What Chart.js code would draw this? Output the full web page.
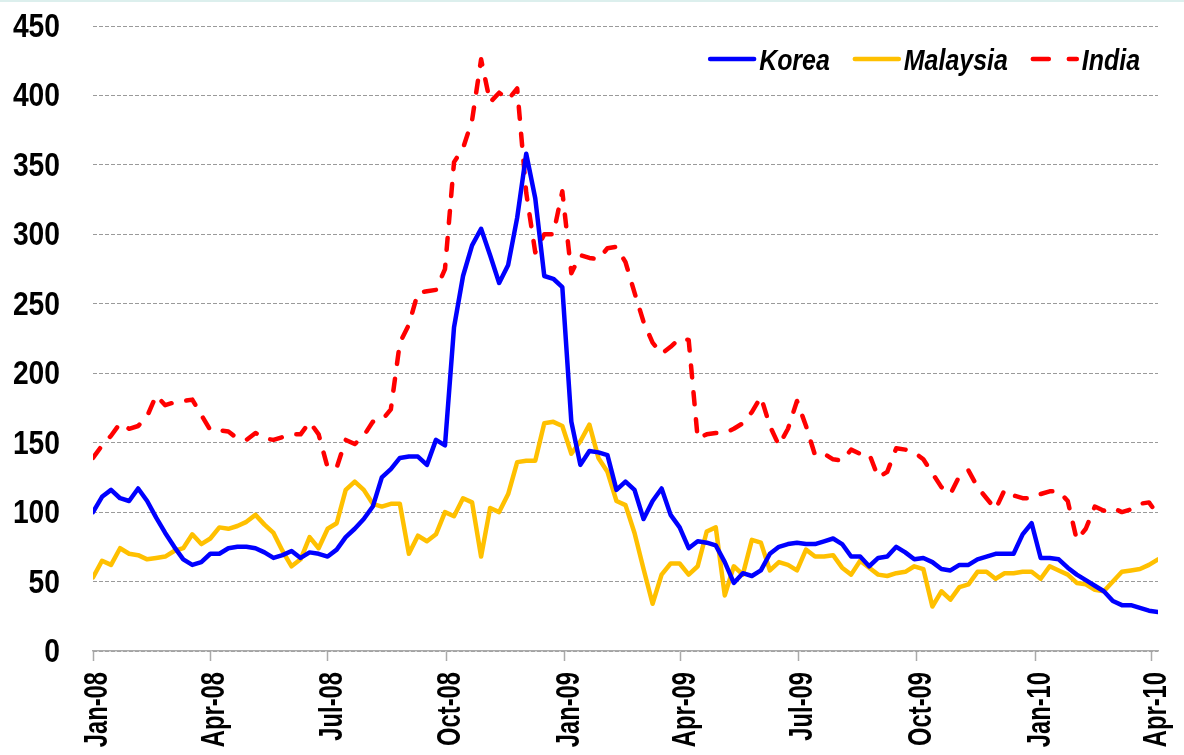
<!DOCTYPE html>
<html><head><meta charset="utf-8">
<script src="https://cdn.jsdelivr.net/npm/chart.js@4/dist/chart.umd.min.js"></script>
<style>
html,body{margin:0;padding:0;background:#fff;}
#wrap{position:relative;width:1184px;height:755px;overflow:hidden;}
#wrap:before{content:'';position:absolute;left:0;top:0;right:0;height:2px;background:#dcefed;}
canvas{display:block;}
</style></head><body>
<div id="wrap"><canvas id="c" width="1184" height="755"></canvas></div>
<script>
// Weekly observations starting 1 Jan 2008
const startDate = '2008-01-01';
const seriesNames = ['Korea', 'Malaysia', 'India'];
const korea = [100,111,116,110,108,117,108,96,85,75,66,62,64,70,70,74,75,75,74,71,67,69,72,67,71,70,68,73,82,88,
  95,104,125,131,139,140,140,134,152,148,233,270,292,304,285,265,278,312,358,326,270,268,262,165,134,144,143,141,116,122,
  116,95,108,117,98,89,74,79,78,76,64,49,56,54,58,70,75,77,78,77,77,79,81,77,68,68,61,67,68,75,
  71,66,67,64,59,58,62,62,66,68,70,70,70,84,92,67,67,66,60,55,51,47,43,36,33,33,31,29,28];
const malaysia = [53,65,62,74,70,69,66,67,68,72,74,84,77,81,89,88,90,93,98,91,85,72,61,66,82,74,88,92,116,122,
  116,106,104,106,106,70,83,79,84,100,97,110,107,68,103,100,113,136,137,137,164,165,162,142,151,163,139,129,108,105,
  85,59,34,55,63,63,55,61,86,89,40,61,55,80,78,58,64,62,58,73,68,68,69,60,55,65,60,55,54,56,
  57,61,59,32,43,37,46,48,57,57,52,56,56,57,57,52,61,58,55,49,48,44,43,50,57,58,59,62,66];
const india = [139,148,155,164,160,162,169,184,177,179,180,181,170,159,159,158,153,152,157,153,152,154,156,156,165,156,132,132,152,149,
  155,165,166,174,222,235,258,259,260,275,352,362,382,426,395,402,397,405,330,287,300,300,331,272,285,283,282,290,291,280,
  258,237,222,214,219,225,224,153,156,157,157,160,164,172,183,162,148,160,180,162,141,142,138,137,145,142,142,125,129,146,
  145,143,138,128,118,113,126,130,118,110,102,116,112,110,110,113,115,115,108,80,88,104,101,103,100,102,106,107,98];
const tickLabels = ['Jan-08','Apr-08','Jul-08','Oct-08','Jan-09','Apr-09','Jul-09','Oct-09','Jan-10','Apr-10'];
const tickDates = ['2008-01-01','2008-04-01','2008-07-01','2008-10-01','2009-01-01','2009-04-01','2009-07-01','2009-10-01','2010-01-01','2010-04-01'];
const yMin = 0, yMax = 450, yStep = 50;

const DAY = 86400000;
const t0 = Date.parse(startDate);
const dayOf = d => Math.round((Date.parse(d) - t0) / DAY);
const tickDays = tickDates.map(dayOf);
const toPts = arr => arr.map((v, i) => ({x: i * 7, y: v}));

const FONT = "'Liberation Sans', Arial, sans-serif";

// draws text horizontally condensed (narrow face look)
function narrowText(ctx, text, x, y, font, sx, align, rot) {
  ctx.save();
  ctx.translate(x, y);
  if (rot) ctx.rotate(rot);
  ctx.scale(sx, 1);
  ctx.font = font;
  ctx.textAlign = align;
  ctx.textBaseline = 'alphabetic';
  ctx.fillStyle = '#000';
  ctx.fillText(text, 0, 0);
  ctx.restore();
}

const labelPlugin = {
  id: 'narrowLabels',
  afterDraw(chart) {
    const ctx = chart.ctx, xs = chart.scales.x, ys = chart.scales.y;
    ys.ticks.forEach(t => {
      narrowText(ctx, String(t.value), 60, ys.getPixelForValue(t.value) + 11, 'bold 33px ' + FONT, 0.855, 'right', 0);
    });
    xs.ticks.forEach((t, i) => {
      narrowText(ctx, tickLabels[i], xs.getPixelForValue(t.value) + 14, xs.top + 21, 'bold 33px ' + FONT, 0.72, 'right', -Math.PI / 2);
    });
  }
};

const legendPlugin = {
  id: 'customLegend',
  afterDatasetsDraw(chart) {
    const ctx = chart.ctx, area = chart.chartArea;
    const lineW = 48, gapLT = 3, gapItems = 23, sx = 0.86;
    const font = 'italic bold 29px ' + FONT;
    ctx.save();
    ctx.font = font;
    const items = chart.data.datasets.map(ds => ({ds, w: ctx.measureText(ds.label).width * sx}));
    ctx.restore();
    let total = 0;
    items.forEach((it, i) => { total += lineW + gapLT + it.w + (i ? gapItems : 0); });
    let x = area.right - 18 - total;
    const y = area.top + 33;
    items.forEach(it => {
      ctx.save();
      ctx.beginPath();
      ctx.lineWidth = 4.5;
      ctx.lineCap = 'round';
      ctx.strokeStyle = it.ds.borderColor;
      ctx.setLineDash(it.ds.borderDash && it.ds.borderDash.length ? [16, 20] : []);
      ctx.moveTo(x + 2, y);
      ctx.lineTo(x + lineW - 2, y);
      ctx.stroke();
      ctx.restore();
      narrowText(ctx, it.ds.label, x + lineW + gapLT, y + 11, font, sx, 'left', 0);
      x += lineW + gapLT + it.w + gapItems;
    });
  }
};

new Chart(document.getElementById('c'), {
  type: 'line',
  data: {
    datasets: [
      {label: seriesNames[0], data: toPts(korea), borderColor: '#0000FF', borderWidth: 4.5, pointRadius: 0, tension: 0, borderJoinStyle: 'round', borderCapStyle: 'round'},
      {label: seriesNames[1], data: toPts(malaysia), borderColor: '#FFC000', borderWidth: 4.5, pointRadius: 0, tension: 0, borderJoinStyle: 'round', borderCapStyle: 'round'},
      {label: seriesNames[2], data: toPts(india), borderColor: '#FF0000', borderWidth: 4.5, pointRadius: 0, tension: 0, borderDash: [12, 15], borderCapStyle: 'round', borderJoinStyle: 'round'}
    ]
  },
  options: {
    responsive: false,
    devicePixelRatio: 1,
    animation: false,
    layout: {padding: {left: 0, top: 26, right: 26, bottom: 0}},
    plugins: {legend: {display: false}, tooltip: {enabled: false}},
    scales: {
      x: {
        type: 'linear',
        min: tickDays[0],
        max: 826,
        afterBuildTicks: s => { s.ticks = tickDays.map(v => ({value: v})); },
        afterFit: s => { s.height = 104; },
        grid: {drawOnChartArea: false, drawTicks: true, tickLength: 10, tickColor: '#aaaaaa', tickWidth: 1.5},
        border: {display: true, color: '#aaaaaa', width: 1.5},
        ticks: {display: false, autoSkip: false}
      },
      y: {
        min: yMin, max: yMax,
        afterFit: s => { s.width = 93; },
        grid: {color: '#9a9a9a', lineWidth: 1, drawTicks: false},
        border: {display: false, dash: [4, 2]},
        ticks: {display: false, stepSize: yStep}
      }
    }
  },
  plugins: [legendPlugin, labelPlugin]
});
</script>
</body></html>
